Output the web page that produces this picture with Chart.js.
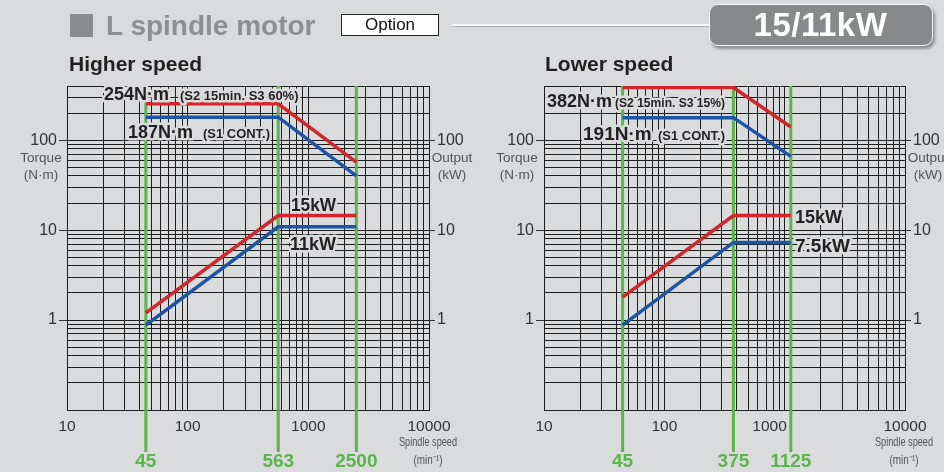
<!DOCTYPE html>
<html><head><meta charset="utf-8">
<script src="https://cdn.jsdelivr.net/npm/chart.js@4/dist/chart.umd.min.js"></script>
<style>
html,body{margin:0;padding:0}
body{background:#dadbdd;width:944px;height:472px;overflow:hidden;position:relative;font-family:"Liberation Sans",Arial,sans-serif}
canvas{position:absolute;left:0;top:0}
.h{position:absolute;white-space:nowrap}
</style></head><body>
<canvas id="c1" width="944" height="472"></canvas>
<canvas id="c2" width="944" height="472"></canvas>
<div class="h" style="left:70px;top:14px;width:23px;height:23px;background:#8b8c8e"></div>
<div class="h" style="left:106px;top:11.5px;font:bold 28px/28px 'Liberation Sans';color:#8e8f91">L spindle motor</div>
<div class="h" style="left:341px;top:14px;width:96px;height:20px;border:1px solid #222;background:#fff;font:17px/20px 'Liberation Sans';text-align:center;color:#111">Option</div>
<div class="h" style="left:452px;top:23.5px;width:258px;height:2px;background:#f7f7f7;box-shadow:0 1px 1px rgba(0,0,0,.2)"></div>
<div class="h" style="left:708.5px;top:3.5px;width:222px;height:40px;border:1.5px solid #f4f4f4;border-radius:9px;background:#87898b;box-shadow:2px 3px 3px rgba(0,0,0,.35);font:bold 33px/40px 'Liberation Sans';letter-spacing:0.5px;color:#fff;text-align:center">15/11kW</div>
<div class="h" style="left:69px;top:52.5px;font:bold 21px/21px 'Liberation Sans';color:#231f20">Higher speed</div>
<div class="h" style="left:545px;top:52.5px;font:bold 21px/21px 'Liberation Sans';color:#231f20">Lower speed</div>
<script>
// ---- data ----
const speedHigh = [45, 563, 2500];
const torqueHighS2 = [254, 254, 57];
const torqueHighS1 = [180, 180, 40];
const outputHighS2 = [1.2, 14.5, 14.5];
const outputHighS1 = [0.88, 10.9, 10.9];

const speedLow = [45, 375, 1125];
const torqueLowS2 = [385, 385, 140];
const torqueLowS1 = [178, 178, 66];
const outputLowS2 = [1.8, 14.5, 14.5];
const outputLowS1 = [0.88, 7.3, 7.3];

const speedTickLabels = [10, 100, 1000, 10000];
const valueTickLabels = [1, 10, 100];
const speedRange = [10, 10000];
const valueRange = [0.1, 400];

const RED = '#d4252b', BLUE = '#1d55a6', GREEN = '#5bb54a', BG = '#dadbdd', GRID = '#1e1e1e', TXT = '#231f20';
Chart.defaults.font.family = "'Liberation Sans', Arial, sans-serif";

function decadeTicks(min, max) {
  const out = [];
  for (let e = Math.floor(Math.log10(min)); e <= Math.ceil(Math.log10(max)); e++) {
    for (let m = 1; m <= 9; m++) {
      const v = parseFloat((m * Math.pow(10, e)).toPrecision(6));
      if (v >= min - 1e-9 && v <= max + 1e-9) out.push({ value: v });
    }
  }
  return out;
}
function pts(xs, ys) { return xs.map((x, i) => ({ x: x, y: ys[i] })); }

const decor = {
  id: 'decor',
  beforeDatasetsDraw(chart, args, o) {
    const ctx = chart.ctx, xs = chart.scales.x, top = chart.chartArea.top;
    ctx.save();
    ctx.strokeStyle = GREEN; ctx.lineWidth = 3;
    o.greens.forEach(v => {
      const px = xs.getPixelForValue(v);
      ctx.beginPath(); ctx.moveTo(px, top); ctx.lineTo(px, 452); ctx.stroke();
    });
    ctx.restore();
  },
  afterDatasetsDraw(chart, args, o) {
    const ctx = chart.ctx;
    ctx.save();
    ctx.textBaseline = 'alphabetic'; ctx.textAlign = 'left';
    ctx.lineJoin = 'round';
    o.notes.forEach(n => {
      n.parts.forEach(p => {
        ctx.font = 'bold ' + p.size + "px 'Liberation Sans'";
        ctx.strokeStyle = BG; ctx.lineWidth = 5;
        ctx.strokeText(p.t, p.x, n.y, p.w);
        ctx.fillStyle = TXT;
        ctx.fillText(p.t, p.x, n.y, p.w);
      });
    });
    ctx.restore();
  },
  afterDraw(chart, args, o) {
    const ctx = chart.ctx, xs = chart.scales.x;
    ctx.save();
    ctx.textAlign = 'center'; ctx.textBaseline = 'middle';
    ctx.fillStyle = GREEN; ctx.font = "bold 19px 'Liberation Sans'";
    o.greens.forEach(v => ctx.fillText(String(v), xs.getPixelForValue(v), 462));
    ctx.fillStyle = '#555'; ctx.font = "13.5px 'Liberation Sans'";
    ctx.fillText('Torque', o.torqueX, 158);
    ctx.fillText('(N\u00b7m)', o.torqueX, 175);
    ctx.fillText('Output', o.outputX, 158);
    ctx.fillText('(kW)', o.outputX, 175);
    ctx.font = "13.5px 'Liberation Sans'";
    ctx.fillText('Spindle speed', o.speedX, 442, 58);
    ctx.font = "12px 'Liberation Sans'";
    ctx.fillText('(min\u207b\u00b9)', o.speedX, 461, 29);
    ctx.restore();
  }
};

function makeChart(id, speeds, tS2, tS1, oS2, oS1, cfg) {
  const majorTick = c => (c.tick && valueTickLabels.includes(c.tick.value)) ? '#333' : 'rgba(0,0,0,0)';
  const line = (data, color, axis) => ({ data: data, borderColor: color, borderWidth: 3.5, pointRadius: 0, tension: 0, yAxisID: axis, borderCapStyle: 'butt', fill: false });
  return new Chart(document.getElementById(id), {
    type: 'line',
    data: {
      datasets: [
        line(pts(speeds, tS1), BLUE, 'y'),
        line(pts(speeds, tS2), RED, 'y'),
        line(pts(speeds, oS1), BLUE, 'y2'),
        line(pts(speeds, oS2), RED, 'y2')
      ]
    },
    options: {
      responsive: false, devicePixelRatio: 1, animation: false,
      layout: { padding: { left: cfg.padL, right: cfg.padR, top: 86, bottom: 0 } },
      plugins: { legend: { display: false }, tooltip: { enabled: false }, decor: cfg.decor },
      scales: {
        x: {
          type: 'logarithmic', position: 'bottom', min: speedRange[0], max: speedRange[1],
          afterBuildTicks: s => { s.ticks = decadeTicks(speedRange[0], speedRange[1]); },
          afterFit: s => { s.height = 62; },
          grid: { color: GRID, lineWidth: 1, drawTicks: false },
          border: { display: true, color: GRID, width: 1 },
          ticks: {
            autoSkip: false, maxRotation: 0, padding: 7, color: '#333', font: { size: 15.5 },
            callback: v => speedTickLabels.includes(v) ? String(v) + (cfg.shift[v] || '') : ''
          }
        },
        y: {
          type: 'logarithmic', position: 'left', min: valueRange[0], max: valueRange[1],
          afterBuildTicks: s => { s.ticks = decadeTicks(valueRange[0], valueRange[1]); },
          afterFit: s => { s.width = cfg.yW; },
          grid: { color: GRID, lineWidth: 1, tickLength: 8, tickColor: majorTick },
          border: { display: true, color: GRID, width: 1 },
          ticks: { autoSkip: false, padding: 2, color: '#333', font: { size: 16 },
            callback: v => valueTickLabels.includes(v) ? String(v) : '' }
        },
        y2: {
          type: 'logarithmic', position: 'right', min: valueRange[0], max: valueRange[1],
          afterBuildTicks: s => { s.ticks = decadeTicks(valueRange[0], valueRange[1]); },
          afterFit: s => { s.width = cfg.y2W; },
          grid: { drawOnChartArea: false, tickLength: 6, tickColor: majorTick },
          border: { display: true, color: GRID, width: 1 },
          ticks: { autoSkip: false, padding: 2, color: '#333', font: { size: 16 },
            callback: v => valueTickLabels.includes(v) ? String(v) : '' }
        }
      }
    },
    plugins: [decor]
  });
}

makeChart('c1', speedHigh, torqueHighS2, torqueHighS1, outputHighS2, outputHighS1, {
  padL: 0, padR: 472, yW: 67, y2W: 43, shift: {},
  decor: {
    greens: speedHigh, torqueX: 41, outputX: 452, speedX: 428,
    notes: [
      { y: 99.5, parts: [{ t: '254N\u00b7m', size: 18, x: 104, w: 71 }, { t: '(S2 15min. S3 60%)', size: 13, x: 180, w: 124 }] },
      { y: 138, parts: [{ t: '187N\u00b7m', size: 18, x: 128, w: 70 }, { t: '(S1 CONT.)', size: 13, x: 203, w: 67 }] },
      { y: 211, parts: [{ t: '15kW', size: 19, x: 291, w: 45 }] },
      { y: 250, parts: [{ t: '11kW', size: 19, x: 290, w: 46 }] }
    ]
  }
});

makeChart('c2', speedLow, torqueLowS2, torqueLowS1, outputLowS2, outputLowS1, {
  padL: 472, padR: 0, yW: 72, y2W: 39, shift: { 1000: '       ' },
  decor: {
    greens: speedLow, torqueX: 517, outputX: 928, speedX: 904,
    notes: [
      { y: 106.5, parts: [{ t: '382N\u00b7m', size: 19, x: 547, w: 65 }, { t: '(S2 15min. S3 15%)', size: 13, x: 615, w: 110 }] },
      { y: 140, parts: [{ t: '191N\u00b7m', size: 19, x: 583, w: 72 }, { t: '(S1 CONT.)', size: 13, x: 658, w: 67 }] },
      { y: 223, parts: [{ t: '15kW', size: 19, x: 795, w: 47 }] },
      { y: 251.5, parts: [{ t: '7.5kW', size: 19, x: 795, w: 55 }] }
    ]
  }
});
</script>
</body></html>
